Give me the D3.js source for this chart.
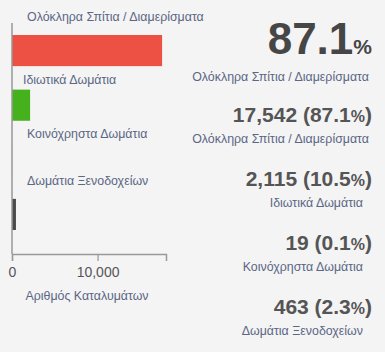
<!DOCTYPE html>
<html><head><meta charset="utf-8">
<script src="https://cdn.jsdelivr.net/npm/d3@7"></script>
<style>
html,body{margin:0;padding:0;background:#f4f4f4;}
svg{display:block;font-family:"Liberation Sans",Arial,sans-serif;}
</style></head>
<body><svg id="c" width="385" height="352"></svg>
<script>
const categories = ["Ολόκληρα Σπίτια / Διαμερίσματα","Ιδιωτικά Δωμάτια","Κοινόχρηστα Δωμάτια","Δωμάτια Ξενοδοχείων"];
const values = [17542, 2115, 19, 463];
const percents = [87.1, 10.5, 0.1, 2.3];
const colors = ["#ec5144","#45b11d","#aaaaaa","#4a4a4a"];
const xTicks = [0, 10000];
const xTitle = "Αριθμός Καταλυμάτων";

const svg = d3.select("#c");
const fmt = d3.format(",");
const LBL = 12.4;

const x = d3.scaleLinear().domain([0, 18000]).range([12, 166]);
const y = d3.scaleBand().domain(categories).range([35, 230]).paddingInner(0.43).paddingOuter(0);

// bars
svg.selectAll("rect.bar").data(categories).enter().append("rect")
  .attr("x", x(0)).attr("y", d => y(d))
  .attr("width", (d,i) => x(values[i]) - x(0))
  .attr("height", y.bandwidth())
  .attr("fill", (d,i) => colors[i]);

// category labels above bars
svg.selectAll("text.cat").data(categories).enter().append("text")
  .attr("x", (d,i) => i === 1 ? 23 : 27)
  .attr("y", (d,i) => y(d) - (i === 0 || i === 3 ? 14 : 6))
  .attr("font-size", LBL).attr("fill", "#5b6784")
  .text(d => d);

// vertical axis line
svg.append("line").attr("x1", x(0)).attr("x2", x(0)).attr("y1", 23).attr("y2", 254)
  .attr("stroke", "#999").attr("stroke-width", 1.5);

// x axis
const gx = svg.append("g").attr("transform", "translate(0,254)")
  .call(d3.axisBottom(x).tickValues(xTicks).tickFormat(fmt).tickSizeOuter(0).tickSize(7));
gx.select(".domain").attr("stroke", "#999").attr("stroke-width", 1.5);
gx.selectAll(".tick line").attr("stroke", "#999").attr("stroke-width", 1.2);
gx.selectAll(".tick text").attr("font-size", 14).attr("fill", "#555")
  .attr("font-family", "Liberation Sans, Arial, sans-serif").attr("dy", "0.9em");

svg.append("text").attr("x", 87).attr("y", 300).attr("text-anchor", "middle")
  .attr("font-size", LBL).attr("fill", "#5b6784").text(xTitle);

// headline
const head = svg.append("text").attr("x", 372).attr("y", 54).attr("text-anchor", "end")
  .attr("font-weight", "bold").attr("fill", "#464646");
head.append("tspan").attr("font-size", 44).text(percents[0].toFixed(1));
head.append("tspan").attr("font-size", 21).text("%");
svg.append("text").attr("x", 369).attr("y", 81).attr("text-anchor", "end")
  .attr("font-size", LBL).attr("fill", "#5b6784").text(categories[0]);

// list of values
const vy = d3.scalePoint().domain(categories).range([122, 314]);
categories.forEach((c, i) => {
  const t = svg.append("text").attr("x", 372).attr("y", vy(c)).attr("text-anchor", "end")
    .attr("font-weight", "bold").attr("fill", "#555");
  t.append("tspan").attr("font-size", 21).text(fmt(values[i]) + " (" + percents[i].toFixed(1));
  t.append("tspan").attr("font-size", 16).text("%");
  t.append("tspan").attr("font-size", 21).text(")");
  svg.append("text").attr("x", i === 0 ? 369 : 363).attr("y", vy(c) + 21).attr("text-anchor", "end")
    .attr("font-size", LBL).attr("fill", "#5b6784").text(c);
});
</script></body></html>
